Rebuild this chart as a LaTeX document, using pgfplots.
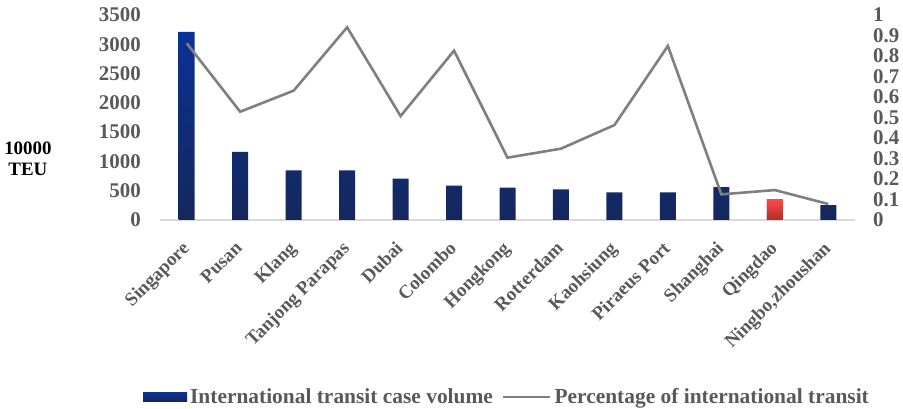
\documentclass[border=0pt]{standalone}
\usepackage{fontspec}
\setmainfont{Liberation Serif}
\usepackage{pgfplots}
\pgfplotsset{compat=1.18}
\usepackage{pgfplotstable}

\definecolor{tickgray}{HTML}{595959}
\definecolor{linegray}{HTML}{7F7F7F}
\definecolor{axisgray}{HTML}{D9D9D9}
\definecolor{navytop}{HTML}{0A3196}
\definecolor{navybot}{HTML}{15285C}
\definecolor{redtop}{HTML}{FF4848}
\definecolor{redbot}{HTML}{B02C2C}

% port, transit volume (10000 TEU), share of international transit
\pgfplotstableread{
idx volume share
0  3210 0.862
1  1161 0.528
2  848  0.631
3  848  0.940
4  705  0.507
5  586  0.826
6  552  0.304
7  524  0.348
8  473  0.463
9  473  0.849
10 563  0.125
11 353  0.146
12 256  0.078
}\porttable

\pgfplotstableread{
idx volume
11 353
}\qingdaotable

\pgfplotsset{
  commonaxis/.style={
    scale only axis,
    width=695bp, height=205bp,
    at={(160bp,189bp)}, anchor=south west,
    xmin=-0.5, xmax=12.5,
    major tick length=0pt,
    /pgf/number format/assume math mode=true,
    tick label style={font=\fontsize{21}{24}\selectfont\bfseries, text=tickgray},
  },
}

\begin{document}
\begin{tikzpicture}
\useasboundingbox (0,0) rectangle (903bp,409bp);

% bars: container volume
\begin{axis}[
  commonaxis,
  ymin=0, ymax=3500, ytick={0,500,...,3500},
  yticklabel style={/pgf/number format/1000 sep={}, anchor=east, inner sep=0pt, xshift=-19bp},
  axis y line*=left, axis x line*=bottom,
  y axis line style={draw=none},
  x axis line style={draw=axisgray, line width=1.5bp, -},
  xtick=data,
  xticklabels={Singapore,Pusan,Klang,Tanjong Parapas,Dubai,Colombo,Hongkong,Rotterdam,Kaohsiung,Piraeus Port,Shanghai,Qingdao,{Ningbo,zhoushan}},
  xticklabel style={font=\fontsize{19}{22}\selectfont\bfseries, text=tickgray,
    xshift=-6bp, yshift=-20bp, rotate=45, anchor=north east, inner sep=0pt},
  ylabel={10000\\TEU},
  ylabel style={at={(axis description cs:-0.19,0.298)}, anchor=center,
    rotate=-90, align=center, font=\fontsize{19}{21}\selectfont\bfseries, text=black},
]
\addplot[ybar, bar width=16bp, draw=none, top color=navytop, bottom color=navybot]
  table[x=idx, y=volume] {\porttable};
\addplot[ybar, bar width=16bp, draw=none, top color=redtop, bottom color=redbot]
  table[x=idx, y=volume] {\qingdaotable};
\end{axis}

% line: share of international transit
\begin{axis}[
  commonaxis,
  ymin=0, ymax=1, ytick={0,0.1,...,1},
  yticklabel style={/pgf/number format/fixed, /pgf/number format/precision=1,
    anchor=west, inner sep=0pt, xshift=18bp},
  axis y line*=right, y axis line style={draw=none},
  axis x line=none,
  legend columns=2,
  legend style={at={(0.5,-0.863)}, anchor=center, draw=none, fill=none,
    font=\fontsize{21.5}{24}\selectfont\bfseries, text=tickgray,
    nodes={inner sep=3bp},
    /tikz/every even column/.append style={column sep=6bp}},
]
\addlegendimage{area legend, draw=none, fill=navytop,
  legend image code/.code={\fill[top color=navytop, bottom color=navybot] (0bp,-4.5bp) rectangle (44bp,4.5bp);}}
\addlegendentry{International transit case volume}
\addplot[linegray, line width=2.6bp, mark=none,
  legend image code/.code={\draw[linegray, line width=2.6bp] (0bp,0bp) -- (47bp,0bp);}]
  table[x=idx, y=share] {\porttable};
\addlegendentry{Percentage of international transit}
\end{axis}
\end{tikzpicture}
\end{document}
